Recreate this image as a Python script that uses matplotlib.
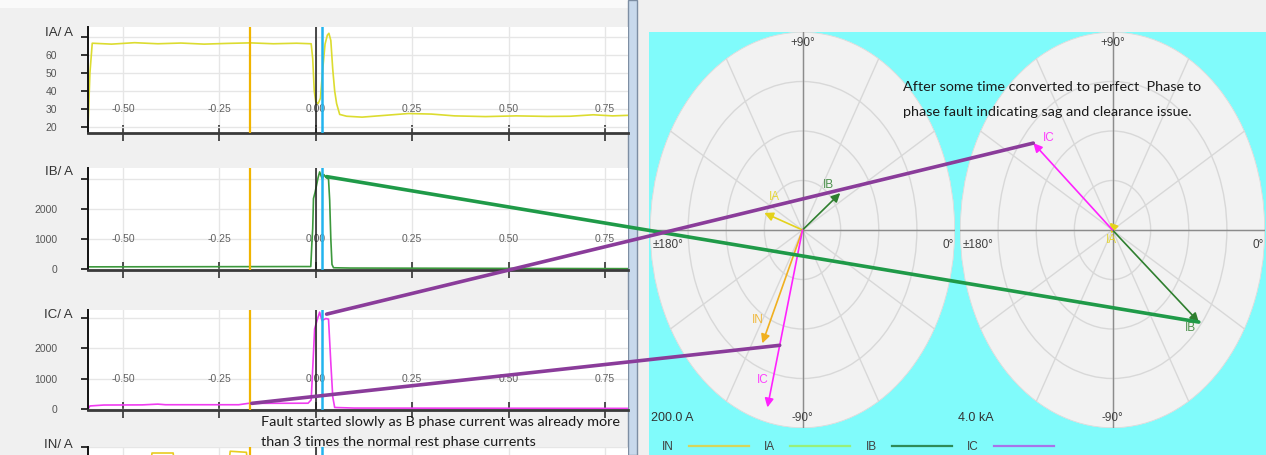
import numpy as np
import matplotlib
matplotlib.use('Agg')
import matplotlib.pyplot as plt
from matplotlib import font_manager
from matplotlib.font_manager import FontProperties
from matplotlib.lines import Line2D
from matplotlib.patches import Rectangle, ConnectionPatch

W, H = 1266, 455

# ── waveform records (time in s, current in A) ────────────────────────────────
T_LIM = (-0.591, 0.81)
T_TICKS = [-0.50, -0.25, 0.00, 0.25, 0.50, 0.75]
CURSOR_ORANGE = -0.171
CURSOR_BLACK = 0.0
CURSOR_CYAN = 0.017

ia_t = [-0.591, -0.586, -0.580, -0.53, -0.47, -0.41, -0.35, -0.29, -0.23, -0.17,
        -0.11, -0.05, -0.012, -0.008, -0.004, 0.000, 0.006, 0.012, 0.018, 0.024,
        0.030, 0.034, 0.039, 0.044, 0.049, 0.054, 0.062, 0.08, 0.12, 0.18,
        0.24, 0.30, 0.36, 0.44, 0.52, 0.60, 0.66, 0.72, 0.77, 0.81]
ia_v = [20, 50, 66.5, 66, 66.8, 66.2, 66.6, 66, 66.4, 66.7,
        66.2, 66.5, 66.2, 58, 40, 34, 33, 36, 52, 66,
        71, 72, 68, 52, 40, 33, 27, 26, 25.5, 26.5,
        27.5, 27.2, 26.2, 25.8, 26.2, 25.9, 26, 26.8, 26.2, 26.5]

ib_t = [-0.591, -0.30, -0.05, -0.013, -0.010, -0.008, -0.006, -0.002, 0.002, 0.006,
        0.010, 0.014, 0.017, 0.021, 0.026, 0.033, 0.036, 0.039, 0.042, 0.046,
        0.09, 0.81]
ib_v = [70, 75, 80, 80, 900, 1350, 2350, 2550, 2800, 3050,
        3240, 3100, 3000, 3150, 3060, 3000, 2300, 1000, 150, 40,
        30, 10]

ic_t = [-0.591, -0.586, -0.55, -0.45, -0.41, -0.39, -0.20, -0.175, -0.02, -0.012,
        -0.009, -0.003, 0.003, 0.010, 0.016, 0.026, 0.033, 0.039, 0.044, 0.049,
        0.10, 0.81]
ic_v = [0, 100, 130, 135, 160, 140, 140, 185, 190, 300,
        1060, 2630, 2900, 3180, 2900, 2970, 2950, 1500, 400, 50,
        30, 20]

in_t = [-0.591, -0.44, -0.425, -0.37, -0.355, -0.24, -0.222, -0.18, -0.165, 0.81]
in_v = [120, 120, 283, 283, 120, 120, 288, 285, 120, 120]

# ── phasors: before the fault (200 A scale) and during it (4.0 kA scale) ─────
pre_names = ['IA', 'IB', 'IN', 'IC']
pre_angle = [161, 37, -114.7, -104.4]      # deg
pre_mag = [53, 62, 126, 185]               # A
PRE_SCALE = 200.0

flt_names = ['IA', 'IB', 'IC']
flt_angle = [-115, -39.4, 139.8]           # deg
flt_mag = [0.08, 2.93, 2.72]               # kA
FLT_SCALE = 4.0

PHASOR_COL = {'IA': '#e4d21c', 'IB': '#2f7f2f', 'IN': '#f0b020', 'IC': '#ff22ff'}

legend_names = ['IN', 'IA', 'IB', 'IC']
legend_cols = ['#d6d65a', '#98f07a', '#2e8b57', '#a874ea']


def pick_font(*names):
    for n in names:
        try:
            font_manager.findfont(FontProperties(family=n), fallback_to_default=False)
            return n
        except ValueError:
            pass
    return 'DejaVu Sans'


TICK_FONT = pick_font('Liberation Sans Narrow', 'Liberation Sans')
NOTE_FONT = pick_font('Lato', 'Open Sans')


def px_rect(x0, y0, x1, y1):
    return [x0 / W, 1 - y1 / H, (x1 - x0) / W, (y1 - y0) / H]


fig = plt.figure(figsize=(W / 100, H / 100), dpi=100, facecolor='#f0f0f0')

# window chrome
fig.add_artist(Rectangle((0, 1 - 8 / H), 628 / W, 8 / H, transform=fig.transFigure,
                         facecolor='#fafafa', edgecolor='none', zorder=-2))
fig.add_artist(Rectangle((649 / W, 0), (W - 649) / W, (H - 32) / H, transform=fig.transFigure,
                         facecolor='#80fbfb', edgecolor='none', zorder=-2))
fig.add_artist(Rectangle((628 / W, 0), 9 / W, 1, transform=fig.transFigure,
                         facecolor='#c8d9ec', edgecolor='#7d8ea3', lw=1, zorder=-1))


def wave_axes(rect, t, v, color, ylim, yticks, lab_y, name, name_y):
    ax = fig.add_axes(px_rect(*rect))
    ax.set_xlim(*T_LIM)
    ax.set_ylim(*ylim)
    ax.set_xticks(T_TICKS)
    ax.set_xticklabels([])
    ax.set_yticks(yticks)
    ax.set_yticklabels([f'{y:g}' for y in yticks[:-1]] + [''], family=TICK_FONT)
    ax.grid(True, color='#e6e6e6', lw=1)
    ax.set_axisbelow(True)
    for s in ('top', 'right'):
        ax.spines[s].set_visible(False)
    ax.spines['left'].set(color='#111111', lw=1.4)
    ax.spines['bottom'].set(color='#3a3a3a', lw=2)
    ax.tick_params(axis='y', direction='out', length=5, width=1.2, color='#111111',
                   pad=17, labelsize=7.5, labelcolor='#555555')
    ax.tick_params(axis='x', direction='inout', length=12, width=1.2, color='#333333')
    if lab_y is not None:
        for tk in T_TICKS:
            ax.text(tk, lab_y, f'{tk:.2f}', ha='center', va='center', fontsize=7.5,
                    color='#606060', family=TICK_FONT, zorder=1)
    ax.plot(t, v, color=color, lw=1.2, zorder=2)
    ax.axvline(CURSOR_ORANGE, color='#f0b400', lw=1.6, zorder=4)
    ax.axvline(CURSOR_BLACK, color='#1a1a1a', lw=1.1, zorder=4)
    ax.axvline(CURSOR_CYAN, color='#22b4ee', lw=1.8, zorder=4)
    ax.text(-0.028, name_y, name, transform=ax.transAxes, ha='right', va='center',
            fontsize=9.5, color='#333333', family=TICK_FONT, clip_on=False)
    return ax


ax_ia = wave_axes((88, 27, 628, 133), ia_t, ia_v, '#dcdc30', (16.7, 75.5),
                  [20, 30, 40, 50, 60, 70], 30, 'IA/ A', 0.94)
ax_ib = wave_axes((88, 168, 628, 270), ib_t, ib_v, '#3c983c', (-35, 3370),
                  [0, 1000, 2000, 3000], 1000, 'IB/ A', 0.96)
ax_ic = wave_axes((88, 310, 628, 410), ic_t, ic_v, '#f03cf0', (-33, 3250),
                  [0, 1000, 2000, 3000], 1000, 'IC/ A', 0.95)
# IN panel is scrolled mostly out of view; its tick labels lie below the window
ax_in = wave_axes((88, 447, 628, 553), in_t, in_v, '#e8cc20', (0, 300),
                  [0, 100, 200, 300], None, 'IN/ A', 1.02)
ax_in.set_yticklabels([])


def phasor_axes(rect, rmax, names, angles, mags, offsets, scale_text, scale_x):
    ax = fig.add_axes(px_rect(*rect), projection='polar')
    ax.set_aspect('auto')
    ax.set_facecolor('#f2f2f2')
    ax.set_ylim(0, rmax)
    ax.set_yticks(rmax * np.array([0.25, 0.5, 0.75, 1.0]))
    ax.set_yticklabels([])
    ax.set_thetagrids(range(0, 360, 30), labels=[''] * 12)
    ax.grid(True, color='#d8d8d8', lw=1)
    ax.spines['polar'].set_visible(False)
    for ang in (0, 90, 180, 270):
        ax.plot([np.radians(ang)] * 2, [0, rmax], color='#8c8c8c', lw=1, zorder=2)
    for txt, x, y, ha in (('+90°', 0.5, 0.972, 'center'), ('-90°', 0.5, 0.025, 'center'),
                          ('±180°', 0.008, 0.462, 'left'), ('0°', 0.995, 0.462, 'right')):
        ax.text(x, y, txt, transform=ax.transAxes, ha=ha, va='center', fontsize=8.5,
                color='#404040', family=TICK_FONT)
    for n, a, m in zip(names, angles, mags):
        tip = (np.radians(a), m)
        ax.annotate('', xy=tip, xytext=(0, 0),
                    arrowprops=dict(arrowstyle='-|>', color=PHASOR_COL[n], lw=1.2,
                                    mutation_scale=13, shrinkA=0, shrinkB=0), zorder=3)
        ax.annotate(n, xy=tip, xytext=offsets[n], textcoords='offset pixels',
                    ha='center', va='center', fontsize=8.5, color=PHASOR_COL[n],
                    family=TICK_FONT, alpha=0.85, zorder=3)
    fig.text(scale_x / W, 1 - 418 / H, scale_text, ha='left', va='center', fontsize=9,
             color='#333333', family=TICK_FONT)
    return ax


ax_p1 = phasor_axes((650, 32, 955, 428), PRE_SCALE, pre_names, pre_angle, pre_mag,
                    {'IA': (10, 16), 'IB': (-12, 8), 'IN': (-5, 23), 'IC': (-5, 27)},
                    '200.0 A', 651)
ax_p2 = phasor_axes((960, 32, 1265, 428), FLT_SCALE, flt_names, flt_angle, flt_mag,
                    {'IA': (0, -6), 'IB': (-8, -6), 'IC': (15, 5)},
                    '4.0 kA', 958)

# ── hand-drawn style connectors between waveform and phasor views ─────────────
T_NOTE = 0.028
T_PRE = -0.166
links = [
    (ax_ib, T_NOTE, np.interp(T_NOTE, ib_t, ib_v) + 40, ax_p2,
     flt_angle[1], flt_mag[1], '#1f9a48'),
    (ax_ic, T_NOTE, np.interp(T_NOTE, ic_t, ic_v) + 150, ax_p2,
     flt_angle[2], flt_mag[2], '#8a3c9a'),
    (ax_ic, T_PRE, np.interp(T_PRE, ic_t, ic_v), ax_p1,
     pre_angle[3], 0.65 * pre_mag[3], '#8a3c9a'),
]
for axA, ta, va, axB, ang, mag, col in links:
    fig.add_artist(ConnectionPatch(xyA=(ta, va), coordsA='data', axesA=axA,
                                   xyB=(np.radians(ang), mag), coordsB='data', axesB=axB,
                                   color=col, lw=2.6, zorder=6))

# ── annotations ──────────────────────────────────────────────────────────────
note_kw = dict(ha='left', va='center', fontsize=10.4, color='#1a1a1a', family=NOTE_FONT, zorder=7)
fig.text(903 / W, 1 - 87 / H, 'After some time converted to perfect  Phase to', **note_kw)
fig.text(903 / W, 1 - 112 / H, 'phase fault indicating sag and clearance issue.', **note_kw)
fig.text(261 / W, 1 - 422 / H, 'Fault started slowly as B phase current was already more', **note_kw)
fig.text(261 / W, 1 - 442 / H, 'than 3 times the normal rest phase currents', **note_kw)

# ── legend strip ─────────────────────────────────────────────────────────────
handles = [Line2D([], [], color=c, lw=1.6, label=n) for n, c in zip(legend_names, legend_cols)]
fig.legend(handles=handles, loc='center left', bbox_to_anchor=(662 / W, 1 - 447 / H),
           ncol=4, frameon=False, markerfirst=False, handlelength=5.1, handletextpad=1.25,
           columnspacing=1.3, prop=FontProperties(family=TICK_FONT, size=8.5),
           labelcolor='#404040', borderaxespad=0, borderpad=0)

fig.savefig('out.png', dpi=100, facecolor=fig.get_facecolor())
